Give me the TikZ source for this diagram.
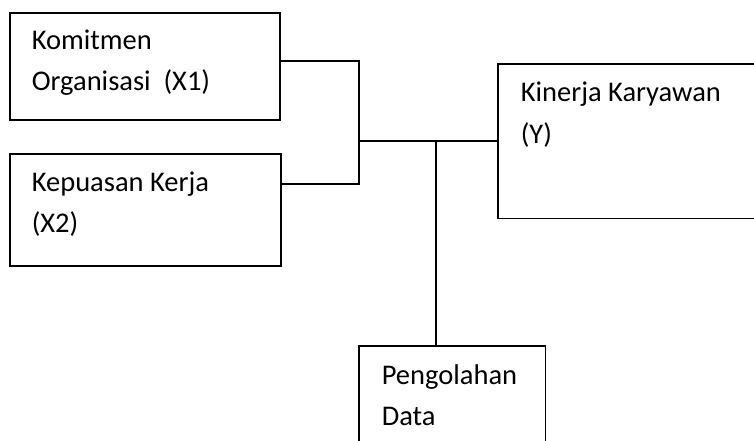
\documentclass[tikz,border=0pt]{standalone}
\usepackage{fontspec}
\setmainfont{Carlito}
\begin{document}
\begin{tikzpicture}[x=1pt,y=1pt,line width=1.6pt,
  box/.style={draw, inner sep=0pt, anchor=north west},
  frame/.style={inner sep=0pt, anchor=north west},
  lbl/.style={anchor=base west, inner sep=0pt, align=left, font=\fontsize{28.5}{41}\selectfont}]
\useasboundingbox (0,0) rectangle (754,441);
% boxes
\node[box, minimum width=270, minimum height=107] (k1) at (9,429) {};
\node[box, minimum width=271, minimum height=112] (k2) at (9,288) {};
\node[frame, minimum width=258, minimum height=153] (ky) at (498,377) {};
\node[frame, minimum width=185, minimum height=110] (pd) at (359,95) {};
\draw (ky.north east) -- (ky.north west) -- (ky.south west) -- (ky.south east);
\draw (pd.south west) -- (pd.north west) -- (pd.north east) -- (pd.south east);
% texts
\node[lbl] (t1a) at (31,391.7) {Komitmen};
\node[lbl] (t1b) at (31,350.7) {Organisasi\ \ (X1)};
\node[lbl] (t2a) at (31,249.3) {Kepuasan Kerja};
\node[lbl] (t2b) at (31,208.3) {(X2)};
\node[lbl] (tya) at (520,339.3) {Kinerja Karyawan};
\node[lbl] (tyb) at (520,297.7) {(Y)};
\node[lbl] (tpa) at (381,56) {Pengolahan};
\node[lbl] (tpb) at (381,15.5) {Data};
% connectors
\coordinate (j1) at (359,380);
\coordinate (j2) at (359,257);
\coordinate (m) at (359,300);
\coordinate (d) at (436,300);
\draw (k1.east |- j1) -- (j1) -- (j2) -- (k2.east |- j2);
\draw (m) -- (ky.west |- m);
\draw (d) -- (d |- pd.north);
\end{tikzpicture}
\end{document}
